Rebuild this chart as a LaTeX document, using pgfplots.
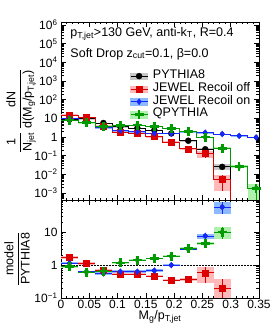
\documentclass[border=0pt]{standalone}
\usepackage{fontspec}
\setmainfont{Liberation Sans}
\usepackage{pgfplots}
\pgfplotsset{compat=1.18}
\usepackage{pgfplotstable}

\definecolor{cred}{RGB}{221,0,0}
\definecolor{cblue}{RGB}{20,40,255}
\definecolor{cgreen}{RGB}{0,155,0}
\definecolor{bgray}{RGB}{200,200,200}
\definecolor{bred}{RGB}{255,185,185}
\definecolor{bblue}{RGB}{140,185,255}
\definecolor{bgreen}{RGB}{175,240,175}

% top panel: left bin edge, value, error (last row = right edge)
\pgfplotstableread{
xl y ey
0.00 9.0 0.3
0.03 9.5 0.3
0.06 5.6 0.2
0.09 3.5 0.12
0.12 3.0 0.1
0.15 2.3 0.08
0.18 1.55 0.06
0.21 0.63 0.04
0.24 0.22 0.025
0.27 0.025 0.009
0.30 0.025 0.009
}\pyt
\pgfplotstableread{
xl y ey
0.00 15.0 1.5
0.03 11.0 1.0
0.06 3.9 0.35
0.09 1.86 0.15
0.12 1.6 0.13
0.15 1.06 0.1
0.18 0.54 0.05
0.21 0.23 0.025
0.24 0.128 0.055
0.27 0.0052 0.004
0.30 0.0052 0.004
}\joff
\pgfplotstableread{
xl y ey
0.00 10.0 0.5
0.03 6.0 0.3
0.06 3.1 0.15
0.09 2.2 0.1
0.12 1.9 0.08
0.15 1.56 0.07
0.18 1.55 0.07
0.21 1.95 0.08
0.24 1.7 0.08
0.27 1.45 0.07
0.30 1.15 0.06
0.33 0.95 0.05
0.36 0.95 0.05
}\jon
\pgfplotstableread{
xl y ey
0.00 8.0 0.4
0.03 5.8 0.3
0.06 3.7 0.2
0.09 4.1 0.2
0.12 4.3 0.2
0.15 3.7 0.18
0.18 2.9 0.15
0.21 2.0 0.1
0.24 0.99 0.06
0.27 0.25 0.025
0.30 0.026 0.005
0.33 0.0018 0.0014
0.36 0.0018 0.0014
}\qpy
% ratio panel
\pgfplotstableread{
xl y ey
0.00 1.71 0.15
0.03 1.12 0.08
0.06 0.70 0.07
0.09 0.53 0.04
0.12 0.53 0.04
0.15 0.46 0.04
0.18 0.35 0.03
0.21 0.37 0.04
0.24 0.58 0.30
0.27 0.20 0.17
0.30 0.20 0.17
}\rjoff
\pgfplotstableread{
xl y ey
0.00 1.13 0.08
0.03 0.63 0.05
0.06 0.56 0.05
0.09 0.63 0.06
0.12 0.63 0.06
0.15 0.68 0.06
0.18 1.00 0.07
0.21 3.1 0.25
0.24 7.7 1.3
0.27 58 22
0.30 58 22
}\rjon
\pgfplotstableread{
xl y ey
0.00 0.89 0.08
0.03 0.61 0.05
0.06 0.66 0.06
0.09 1.17 0.08
0.12 1.42 0.1
0.15 1.60 0.1
0.18 1.87 0.12
0.21 3.2 0.25
0.24 4.5 0.5
0.27 10.0 4.0
0.30 10.0 4.0
}\rqpy

\pgfplotsset{
  rsLegBand/.style={legend image code/.code={%
    \fill[#1] (0pt,-3.2pt) rectangle (17pt,3.2pt);
    \draw[line width=0.8pt] (0pt,0pt) -- (17pt,0pt);
    \draw plot coordinates {(8.5pt,0pt)};}},
  rsAxis/.style={
    scale only axis, width=198pt,
    xmin=0, xmax=0.35,
    xtick={0,0.05,0.1,0.15,0.2,0.25,0.3,0.35},
    minor x tick num=4,
    tick align=inside, tick pos=both,
    major tick length=5pt, minor tick length=2.5pt,
    tick style={black, line width=0.5pt},
    axis line style={line width=0.6pt},
    tick label style={font=\fontsize{12}{12}\selectfont},
    label style={font=\fontsize{12.5}{14}\selectfont},
  },
  rsBox/.style={only marks, mark=none, forget plot,
    error bars/y dir=both, error bars/y explicit, error bars/error mark=none,
    error bars/error bar style={draw=#1, line width=16.97pt}},
  rsEb/.style={error bars/y dir=both, error bars/y explicit, error bars/error mark=none,
    error bars/error bar style={line width=0.8pt}},
  rsEbx/.style={error bars/x dir=both, error bars/x fixed=0.015},
  rsMkA/.style={only marks, mark=*, mark size=3pt, black, rsEb},
  rsMkB/.style={only marks, mark=square*, mark size=3pt, cred, rsEb},
  rsMkC/.style={only marks, mark=diamond*, mark size=3pt, cblue, rsEb},
  rsMkD/.style={only marks, mark=+, mark size=4.5pt, cgreen, mark options={line width=2.6pt}, rsEb},
}

\begin{document}
\begin{tikzpicture}
\path[use as bounding box] (0,0) rectangle (274pt,333pt);

% ---------------- top panel ----------------
\begin{axis}[rsAxis, ymode=log,
  at={(61pt,133pt)}, anchor=south west, height=178pt,
  ymin=4.2e-4, ymax=1.45e6,
  xticklabels={},
  ytick={1e-3,1e-2,1e-1,1,10,100,1e3,1e4,1e5,1e6},
  yticklabels={10\textsuperscript{−3},10\textsuperscript{−2},10\textsuperscript{−1},1,10,10\textsuperscript{2},10\textsuperscript{3},10\textsuperscript{4},10\textsuperscript{5},10\textsuperscript{6}},
  minor ytick={5e-4,6e-4,7e-4,8e-4,9e-4,2e-3,3e-3,4e-3,5e-3,6e-3,7e-3,8e-3,9e-3,2e-2,3e-2,4e-2,5e-2,6e-2,7e-2,8e-2,9e-2,0.2,0.3,0.4,0.5,0.6,0.7,0.8,0.9,2,3,4,5,6,7,8,9,20,30,40,50,60,70,80,90,200,300,400,500,600,700,800,900,2e3,3e3,4e3,5e3,6e3,7e3,8e3,9e3,2e4,3e4,4e4,5e4,6e4,7e4,8e4,9e4,2e5,3e5,4e5,5e5,6e5,7e5,8e5,9e5},
  ylabel={$\displaystyle\frac{\mbox{1}}{\mbox{N\textsubscript{jet}}}\,\frac{\mbox{dN}}{\mbox{d(M\textsubscript{g}/p\textsubscript{T,jet})}}$},
  ylabel style={at={(axis description cs:-0.202,0.5)}, anchor=center},
  legend style={at={(axis description cs:0.3485,0.733)}, anchor=north west,
    draw=none, fill=none, font=\fontsize{12.5}{13}\selectfont,
    row sep=0pt, column sep=5pt, inner sep=0pt,
    nodes={inner sep=0pt, text height=8.8pt, text depth=4pt}},
  legend cell align=left,
]
% bands (bin-wide boxes)
\addplot[rsBox=bgray, skip coords between index={10}{11}] table[x expr=\thisrow{xl}+0.015, y=y, y error=ey] {\pyt};
\addplot[rsBox=bred, skip coords between index={10}{11}] table[x expr=\thisrow{xl}+0.015, y=y, y error=ey] {\joff};
\addplot[rsBox=bblue, skip coords between index={12}{13}] table[x expr=\thisrow{xl}+0.015, y=y, y error=ey] {\jon};
\addplot[rsBox=bgreen, skip coords between index={12}{13}] table[x expr=\thisrow{xl}+0.015, y=y, y error=ey] {\qpy};
% step lines
\addplot[black, line width=0.8pt, const plot, forget plot] table[x=xl, y=y] {\pyt};
\addplot[black, line width=0.8pt, forget plot] coordinates {(0.30,0.025) (0.30,1e-6)};
\addplot[cred, line width=0.8pt, const plot, forget plot] table[x=xl, y=y] {\joff};
\addplot[cred, line width=0.8pt, forget plot] coordinates {(0.30,0.0052) (0.30,1e-6)};
\addplot[cblue, line width=0.8pt, const plot, forget plot] table[x=xl, y=y] {\jon};
\addplot[cgreen, line width=0.8pt, const plot, forget plot] table[x=xl, y=y] {\qpy};
% markers
\addplot[rsMkA, rsLegBand=bgray, skip coords between index={10}{11}] table[x expr=\thisrow{xl}+0.015, y=y, y error=ey] {\pyt};
\addlegendentry{PYTHIA8}
\addplot[rsMkB, rsLegBand=bred, skip coords between index={10}{11}] table[x expr=\thisrow{xl}+0.015, y=y, y error=ey] {\joff};
\addlegendentry{JEWEL Recoil off}
\addplot[rsMkC, rsLegBand=bblue, skip coords between index={12}{13}] table[x expr=\thisrow{xl}+0.015, y=y, y error=ey] {\jon};
\addlegendentry{JEWEL Recoil on}
\addplot[rsMkD, rsLegBand=bgreen, skip coords between index={12}{13}] table[x expr=\thisrow{xl}+0.015, y=y, y error=ey] {\qpy};
\addlegendentry{QPYTHIA}

\node[anchor=base west, font=\fontsize{12.5}{14}\selectfont] at (rel axis cs:0.03,0.921) {p\textsubscript{T,jet}>130 GeV, anti-k\textsubscript{T}, R=0.4};
\node[anchor=base west, font=\fontsize{12.5}{14}\selectfont] at (rel axis cs:0.03,0.803) {Soft Drop z\textsubscript{cut}=0.1, β=0.0};
\end{axis}

% ---------------- ratio panel ----------------
\begin{axis}[rsAxis, ymode=log,
  at={(61pt,35pt)}, anchor=south west, height=98pt,
  ymin=0.1, ymax=95,
  xticklabels={0,0.05,0.1,0.15,0.2,0.25,0.3,0.35},
  xticklabel style={inner sep=0.5pt, yshift=-1.5pt},
  ytick={0.1,1,10},
  yticklabels={10\textsuperscript{−1},1,10},
  minor ytick={0.2,0.3,0.4,0.5,0.6,0.7,0.8,0.9,2,3,4,5,6,7,8,9,20,30,40,50,60,70,80,90},
  xlabel={M\textsubscript{g}/p\textsubscript{T,jet}},
  xlabel style={at={(axis description cs:0.5,-0.219)}, anchor=base, inner sep=0pt},
  ylabel={$\displaystyle\frac{\mbox{model}}{\mbox{PYTHIA8}}$},
  ylabel style={at={(axis description cs:-0.222,0.40)}, anchor=center},
]
\addplot[black, densely dotted, line width=0.5pt] coordinates {(0,1) (0.35,1)};
% bands
\addplot[rsBox=bred, skip coords between index={10}{11}] table[x expr=\thisrow{xl}+0.015, y=y, y error=ey] {\rjoff};
\addplot[rsBox=bblue, skip coords between index={10}{11}] table[x expr=\thisrow{xl}+0.015, y=y, y error=ey] {\rjon};
\addplot[rsBox=bgreen, skip coords between index={10}{11}] table[x expr=\thisrow{xl}+0.015, y=y, y error=ey] {\rqpy};
% markers with bin-width bars
\addplot[rsMkB, rsEbx, skip coords between index={10}{11}] table[x expr=\thisrow{xl}+0.015, y=y, y error=ey] {\rjoff};
\addplot[rsMkC, rsEbx, skip coords between index={10}{11}] table[x expr=\thisrow{xl}+0.015, y=y, y error=ey] {\rjon};
\addplot[rsMkD, rsEbx, skip coords between index={10}{11}] table[x expr=\thisrow{xl}+0.015, y=y, y error=ey] {\rqpy};
\end{axis}
\end{tikzpicture}
\end{document}
